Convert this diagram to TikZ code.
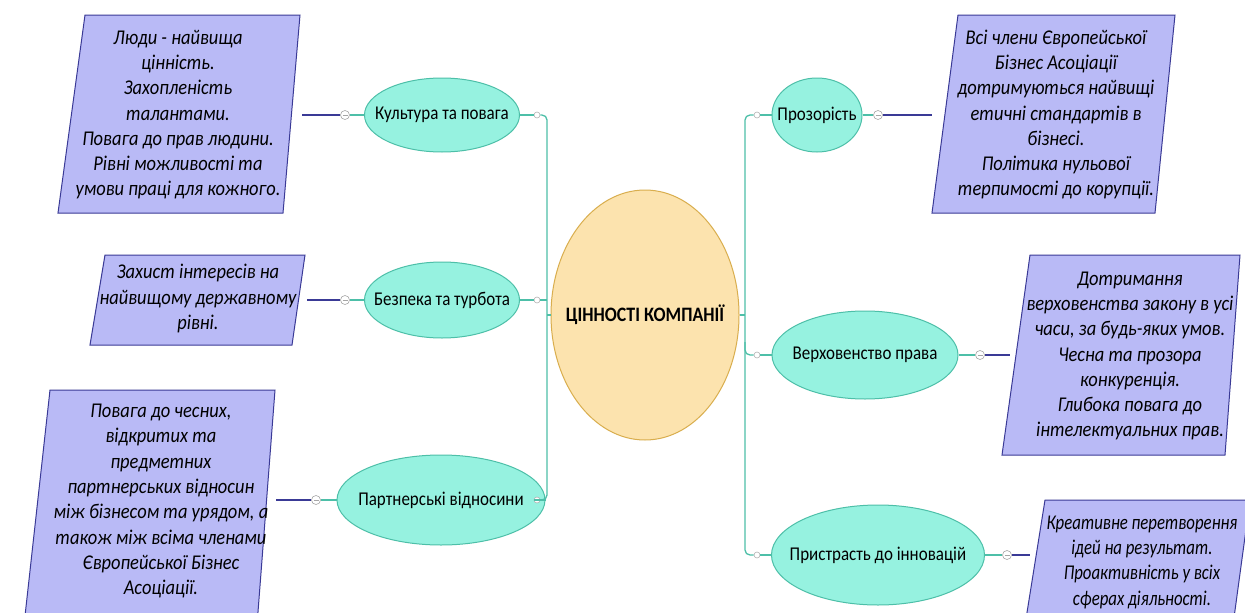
\documentclass[tikz,border=0pt]{standalone}
\usepackage{fontspec}
\usepackage{graphicx}
\setmainfont{Carlito}
\usetikzlibrary{shapes.geometric}
\definecolor{tealfill}{HTML}{96F2E0}
\definecolor{tealline}{HTML}{4DBFA8}
\definecolor{boxfill}{HTML}{B9BAF6}
\definecolor{boxline}{HTML}{3A3A96}
\definecolor{cfill}{HTML}{FCE3AE}
\definecolor{cline}{HTML}{D9AE4E}
\newcommand{\bt}[2][0.88]{\scalebox{#1}[1]{\begin{tabular}{@{}c@{}}#2\end{tabular}}}
\newcommand{\tl}[1]{\makebox[0pt]{\scalebox{0.87}[1]{#1}}}
\begin{document}
\begin{tikzpicture}[x=1pt,y=-1pt,
  topic/.style={ellipse, draw=tealline, fill=tealfill, line width=1pt, inner sep=0pt, font=\fontsize{19.5}{22}\selectfont},
  central/.style={ellipse, draw=cline, fill=cfill, line width=1pt, inner sep=0pt, minimum width=188, minimum height=250, font=\bfseries\fontsize{20.5}{24}\selectfont},
  boxtext/.style={font=\itshape\fontsize{21}{25.3}\selectfont, inner sep=0pt},
  boxshape/.style={draw=boxline, fill=boxfill, line width=1pt},
  conn/.style={draw=tealline, line width=1.3pt},
  nconn/.style={draw=boxline, line width=1.3pt},
  knob/.style={circle, draw=gray!70, fill=white, minimum size=9pt, inner sep=0pt, line width=0.6pt,
    path picture={\draw[gray!70,line width=0.6pt] ([xshift=-2.5pt]path picture bounding box.center) -- ([xshift=2.5pt]path picture bounding box.center);}},
  dot/.style={circle, draw=gray!60, fill=white, minimum size=6pt, inner sep=0pt, line width=0.6pt}
]
\useasboundingbox (0,0) rectangle (1245,613);
\fill[white] (0,0) rectangle (1245,613);

% boxes
\draw[boxshape] (85,15) -- (300,15) -- (283,213) -- (58,213) -- cycle;
\draw[boxshape] (105,255) -- (305,255) -- (292,345) -- (90,345) -- cycle;
\draw[boxshape] (50,390) -- (275,390) -- (257,625) -- (24,625) -- cycle;
\draw[boxshape] (958,15) -- (1175,15) -- (1155,213) -- (932,213) -- cycle;
\draw[boxshape] (1030,255) -- (1240,255) -- (1225,455) -- (1002,455) -- cycle;
\draw[boxshape] (1045,500) -- (1250,500) -- (1233,625) -- (1025,625) -- cycle;

\node[boxtext] (t1) at (178,115) {\bt{Люди - найвища\\цінність.\\Захопленість\\талантами.\\Повага до прав людини.\\Рівні можливості та\\умови праці для кожного.}};
\node[boxtext] (t2) at (198,299) {\bt{Захист інтересів на\\найвищому державному\\рівні.}};
\node[boxtext] (t3) at (161,501) {\bt{Повага до чесних,\\відкритих та\\предметних\\партнерських відносин\\між бізнесом та урядом, а\\також між всіма членами\\Європейської Бізнес\\Асоціації.}};
\node[boxtext] (t4) at (1056,115) {\bt{Всі члени Європейської\\Бізнес Асоціації\\дотримуються найвищі\\етичні стандартів в\\бізнесі.\\Політика нульової\\терпимості до корупції.}};
\node[boxtext] (t5) at (1130,356) {\bt{Дотримання\\верховенства закону в усі\\часи, за будь-яких умов.\\Чесна та прозора\\конкуренція.\\Глибока повага до\\інтелектуальних прав.}};
\node[boxtext] (t6) at (1142,562) {\bt[0.8]{Креативне перетворення\\ідей на результат.\\Проактивність у всіх\\сферах діяльності.}};

% box edge coordinates
\coordinate (e1) at (302,115);
\coordinate (e2) at (307,300);
\coordinate (e3) at (276,500);
\coordinate (e4) at (932,115);
\coordinate (e5) at (1010,355);
\coordinate (e6) at (1030,555);

% topics
\node[central] (c) at (645,315) {\tl{ЦІННОСТІ КОМПАНІЇ}};
\node[topic, minimum width=155, minimum height=74] (k) at (442,115) {\tl{Культура та повага}};
\node[topic, minimum width=155, minimum height=76] (b) at (442,300) {\tl{Безпека та турбота}};
\node[topic, minimum width=208, minimum height=90] (p) at (441,500) {\tl{Партнерські відносини}};
\node[topic, minimum width=90, minimum height=74] (pr) at (817,115) {\tl{Прозорість}};
\node[topic, minimum width=186, minimum height=88] (v) at (865,355) {\tl{Верховенство права}};
\node[topic, minimum width=213, minimum height=100] (i) at (878,555) {\tl{Пристрасть до інновацій}};

% small dots
\node[dot] (dk) at (537,115) {};
\node[dot] (db) at (537,300) {};
\node[dot] (dp) at (537,500) {};
\node[dot] (dpr) at (757,115) {};
\node[dot] (dv) at (757,355) {};
\node[dot] (di) at (757,555) {};

% knobs
\node[knob] (kk) at (345,115) {};
\node[knob] (kb) at (345,300) {};
\node[knob] (kp) at (316,500) {};
\node[knob] (kpr) at (878,115) {};
\node[knob] (kv) at (980,355) {};
\node[knob] (ki) at (1007,555) {};

% junctions
\coordinate (jl) at (547,315);
\coordinate (jlb) at (547,300);
\coordinate (jr) at (745,315);
\coordinate (jrv) at (745,342);

% left connectors
\draw[conn] (c.west) -- (jl);
\draw[conn, rounded corners=5] (dk.east) -| (jl) |- (dp.east);
\draw[conn] (db.east) -- (jlb);
\draw[conn] (k.east) -- (dk.west);
\draw[conn] (b.east) -- (db.west);
\draw[conn] (p.east) -- (dp.west);
\draw[conn] (k.west) -- (kk.east);
\draw[conn] (b.west) -- (kb.east);
\draw[conn] (p.west) -- (kp.east);
\draw[nconn] (kk.west) -- (e1);
\draw[nconn] (kb.west) -- (e2);
\draw[nconn] (kp.west) -- (e3);

% right connectors
\draw[conn] (c.east) -- (jr);
\draw[conn, rounded corners=5] (dpr.west) -| (jr) |- (di.west);
\draw[conn, rounded corners=5] (jrv) |- (dv.west);
\draw[conn] (dpr.east) -- (pr.west);
\draw[conn] (dv.east) -- (v.west);
\draw[conn] (di.east) -- (i.west);
\draw[conn] (pr.east) -- (kpr.west);
\draw[conn] (v.east) -- (kv.west);
\draw[conn] (i.east) -- (ki.west);
\draw[nconn] (kpr.east) -- (e4);
\draw[nconn] (kv.east) -- (e5);
\draw[nconn] (ki.east) -- (e6);
\end{tikzpicture}
\end{document}
